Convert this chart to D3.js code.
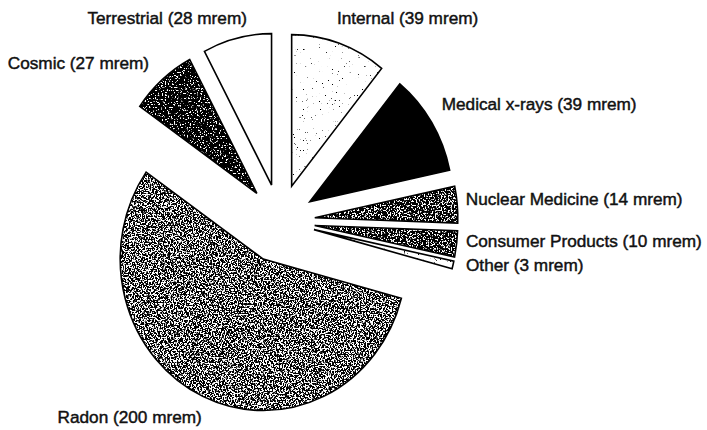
<!DOCTYPE html>
<html>
<head>
<meta charset="utf-8">
<script src="https://cdn.jsdelivr.net/npm/d3@7"></script>
<style>
  html, body { margin: 0; padding: 0; background: #ffffff; }
  svg { display: block; }
  .label { font-family: "Liberation Sans", Arial, sans-serif; font-size: 17.2px; fill: #111; stroke: #111; stroke-width: 0.45px; }
</style>
</head>
<body>
<svg id="chart" width="707" height="430"></svg>
<script>
// Annual radiation dose by source (mrem per year)
const categories = ["Internal", "Medical x-rays", "Nuclear Medicine", "Consumer Products", "Other", "Radon", "Cosmic", "Terrestrial"];
const doses = [39, 39, 14, 10, 3, 200, 27, 28];
const unit = "mrem";

const width = 707, height = 430;
const svg = d3.select("#chart");

// pie geometry: slightly oval, every slice pulled out from the common centre
const cx = 280, cy = 221;
const ry = 151.5, rx = 143;
const sx = rx / ry;
const explode = name => name === "Radon" ? 42 : 37;

// fill of each slice: "solid" black, "white", or a speckle with a noise threshold
// (higher threshold = more black)
const texture = {
  "Internal": 0.24,
  "Medical x-rays": "solid",
  "Nuclear Medicine": 0.56,
  "Consumer Products": 0.57,
  "Other": 0.28,
  "Radon": 0.52,
  "Cosmic": 0.63,
  "Terrestrial": "white"
};

// label offsets from the point on the rim at each slice's mid angle
const labelShift = {
  "Internal": [-2.5, -19.5],
  "Medical x-rays": [10, -13],
  "Nuclear Medicine": [8.5, 0],
  "Consumer Products": [9.3, 3.5],
  "Other": [13, 5.5],
  "Radon": [-1, 27],
  "Cosmic": [-13, -11.3],
  "Terrestrial": [10, -14]
};

const defs = svg.append("defs");
function speckleFilter(id, t, seed) {
  const f = defs.append("filter").attr("id", id)
    .attr("x", "-5%").attr("y", "-5%").attr("width", "110%").attr("height", "110%")
    .attr("color-interpolation-filters", "sRGB");
  f.append("feTurbulence").attr("type", "fractalNoise").attr("baseFrequency", 0.65)
    .attr("numOctaves", 2).attr("seed", seed).attr("result", "n");
  f.append("feColorMatrix").attr("in", "n").attr("type", "matrix")
    .attr("values", "1 0 0 0 0  1 0 0 0 0  1 0 0 0 0  0 0 0 0 1").attr("result", "g");
  // steep ramp around the threshold turns the noise into black and white grain
  const slope = 14;
  const ct = f.append("feComponentTransfer").attr("in", "g").attr("result", "b");
  ["feFuncR", "feFuncG", "feFuncB"].forEach(fn =>
    ct.append(fn).attr("type", "linear").attr("slope", slope).attr("intercept", 0.5 - slope * t));
  f.append("feComposite").attr("in", "b").attr("in2", "SourceGraphic").attr("operator", "in");
}

const pie = d3.pie().sort(null).startAngle(0).endAngle(2 * Math.PI)
  .value(d => d.value);
const slices = pie(categories.map((name, i) => ({ name, value: doses[i] })));
const arc = d3.arc().innerRadius(0).outerRadius(ry);

slices.forEach((s, i) => {
  const name = s.data.name;
  const mid = (s.startAngle + s.endAngle) / 2;
  const d = explode(name);
  const ax = cx + d * sx * Math.sin(mid);
  const ay = cy - d * Math.cos(mid);
  s.ax = ax; s.ay = ay; s.mid = mid;

  const g = svg.append("g").attr("transform", `translate(${ax},${ay}) scale(${sx},1)`);
  const tex = texture[name];
  if (tex === "solid") {
    g.append("path").attr("d", arc(s)).attr("fill", "#000");
  } else if (tex === "white") {
    g.append("path").attr("d", arc(s)).attr("fill", "#fff");
  } else {
    const id = "tex" + i;
    speckleFilter(id, tex, 7 + i * 3);
    g.append("path").attr("d", arc(s)).attr("fill", "#fff");
    g.append("path").attr("d", arc(s)).attr("fill", "#000").attr("filter", `url(#${id})`);
  }
  g.append("path").attr("d", arc(s))
    .attr("fill", "none").attr("stroke", "#000").attr("stroke-width", 1.6)
    .attr("stroke-linejoin", "miter")
    .attr("vector-effect", "non-scaling-stroke");
});

// category labels outside the rim
slices.forEach(s => {
  const name = s.data.name;
  const px = s.ax + rx * Math.sin(s.mid);
  const py = s.ay - ry * Math.cos(s.mid);
  const [dx, dy] = labelShift[name];
  svg.append("text").attr("class", "label")
    .attr("x", px + dx).attr("y", py + dy)
    .attr("text-anchor", Math.sin(s.mid) >= 0 ? "start" : "end")
    .text(`${name} (${s.data.value} ${unit})`);
});
</script>
</body>
</html>
